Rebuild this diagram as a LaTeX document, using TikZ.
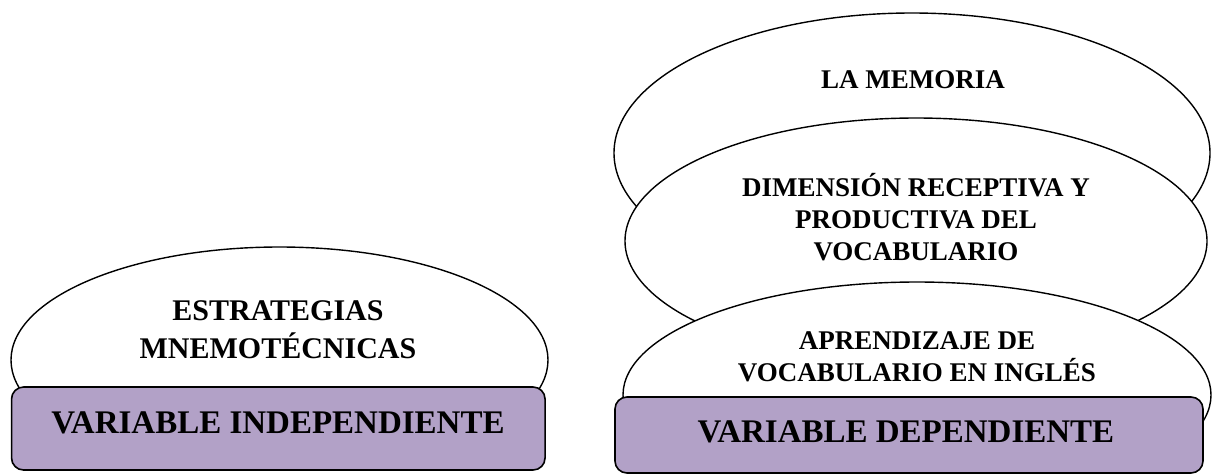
\documentclass[tikz,border=0pt]{standalone}
\usepackage{fontspec}
\setmainfont{Liberation Serif}
\usetikzlibrary{shapes.geometric}
\definecolor{boxpurple}{HTML}{B2A1C7}
\tikzset{
  oval/.style={ellipse, draw=black, line width=1.4pt, fill=white, inner sep=0pt},
  varbox/.style={draw=black, line width=1.6pt, fill=boxpurple, rounded corners=12pt, inner sep=0pt},
  lbl/.style={font=\fontsize{27}{27}\selectfont\bfseries, inner sep=0pt, anchor=base},
  biglbl/.style={font=\fontsize{30}{30}\selectfont\bfseries, inner sep=0pt, anchor=base},
  boxlbl/.style={font=\fontsize{33}{33}\selectfont\bfseries, inner sep=0pt, anchor=base}
}
\begin{document}
\begin{tikzpicture}[x=1pt,y=-1pt]
\useasboundingbox (0,0) rectangle (1212,475);
% left group
\begin{scope}
  \clip (0,0) rectangle (600,470);
  \node[oval, minimum width=537pt, minimum height=226pt] (eL) at (279.5,360) {};
\end{scope}
\node[varbox, minimum width=533.5pt, minimum height=83pt] (bL) at (278.3,428.5) {};
% right group
\begin{scope}
  \clip (600,0) rectangle (1212,473);
  \node[oval, minimum width=596pt, minimum height=280pt] (e1) at (912,153) {};
  \node[oval, minimum width=582pt, minimum height=246pt] (e2) at (916,241) {};
  \node[oval, minimum width=588pt, minimum height=226pt] (e3) at (917,395) {};
\end{scope}
\node[varbox, minimum width=588pt, minimum height=76pt] (bR) at (909,435) {};
% texts
\node[biglbl] (t1) at (278,320) {ESTRATEGIAS};
\node[biglbl] (t2) at (278,358) {MNEMOTÉCNICAS};
\node[boxlbl] (t3) at (278,433) {VARIABLE INDEPENDIENTE};
\node[lbl] (t4) at (913,88) {LA MEMORIA};
\node[lbl] (t5) at (916,196) {DIMENSIÓN RECEPTIVA Y};
\node[lbl] (t6) at (916,228) {PRODUCTIVA DEL};
\node[lbl] (t7) at (916,260) {VOCABULARIO};
\node[lbl] (t8) at (917,349) {APRENDIZAJE DE};
\node[lbl] (t9) at (917,381) {VOCABULARIO EN INGLÉS};
\node[boxlbl] (t10) at (906,442) {VARIABLE DEPENDIENTE};
\end{tikzpicture}
\end{document}
